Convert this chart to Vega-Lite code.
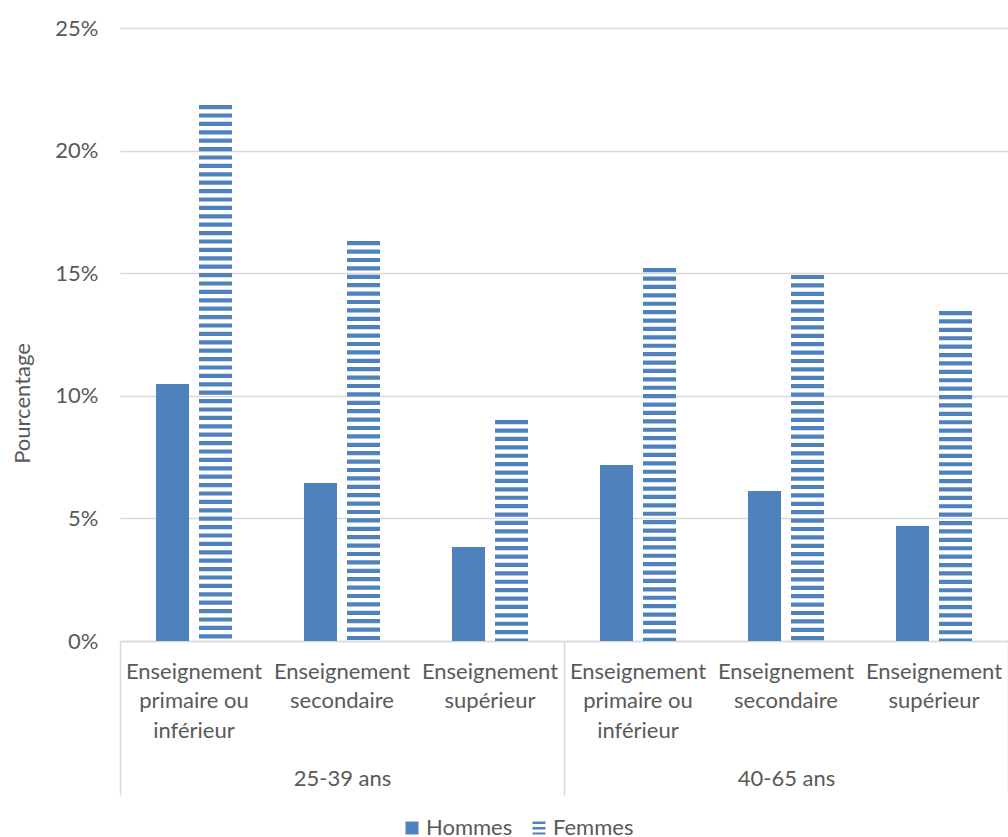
{
  "$schema": "https://vega.github.io/schema/vega-lite/v6.json",
  "width": 888,
  "height": 613,
  "autosize": "none",
  "padding": {"left": 120, "top": 28, "right": 0, "bottom": 196},
  "background": "white",
  "config": {
    "font": "Lato",
    "view": {"stroke": null},
    "axis": {"labelColor": "#595959", "titleColor": "#595959", "labelFontSize": 22, "titleFontSize": 22, "titleFontWeight": "normal"},
    "legend": {"labelColor": "#595959", "labelFontSize": 22}
  },
  "data": {
    "values": [
      {"age": "25-39 ans", "cat": "25-39 ans – primaire", "sexe": "Hommes", "valeur": 0.1048},
      {"age": "25-39 ans", "cat": "25-39 ans – primaire", "sexe": "Femmes", "valeur": 0.2186},
      {"age": "25-39 ans", "cat": "25-39 ans – secondaire", "sexe": "Hommes", "valeur": 0.0644},
      {"age": "25-39 ans", "cat": "25-39 ans – secondaire", "sexe": "Femmes", "valeur": 0.1631},
      {"age": "25-39 ans", "cat": "25-39 ans – supérieur", "sexe": "Hommes", "valeur": 0.0383},
      {"age": "25-39 ans", "cat": "25-39 ans – supérieur", "sexe": "Femmes", "valeur": 0.0901},
      {"age": "40-65 ans", "cat": "40-65 ans – primaire", "sexe": "Hommes", "valeur": 0.0718},
      {"age": "40-65 ans", "cat": "40-65 ans – primaire", "sexe": "Femmes", "valeur": 0.1521},
      {"age": "40-65 ans", "cat": "40-65 ans – secondaire", "sexe": "Hommes", "valeur": 0.0612},
      {"age": "40-65 ans", "cat": "40-65 ans – secondaire", "sexe": "Femmes", "valeur": 0.1493},
      {"age": "40-65 ans", "cat": "40-65 ans – supérieur", "sexe": "Hommes", "valeur": 0.0469},
      {"age": "40-65 ans", "cat": "40-65 ans – supérieur", "sexe": "Femmes", "valeur": 0.1346}
    ]
  },
  "layer": [
    {
      "encoding": {
        "x": {
          "field": "cat", "type": "nominal",
          "scale": {"domain": ["25-39 ans – primaire", "25-39 ans – secondaire", "25-39 ans – supérieur", "40-65 ans – primaire", "40-65 ans – secondaire", "40-65 ans – supérieur"], "paddingInner": 0, "paddingOuter": 0},
          "axis": {
            "title": null, "labelAngle": 0, "ticks": false, "grid": false,
            "domain": true, "domainColor": "#d9d9d9", "domainWidth": 1.5,
            "labelOverlap": false, "labelBound": false, "labelLimit": 0,
            "labelPadding": 20, "labelLineHeight": 29.5,
            "labelExpr": "indexof(datum.value,'primaire')>=0 ? ['Enseignement','primaire ou','inférieur'] : indexof(datum.value,'secondaire')>=0 ? ['Enseignement','secondaire'] : ['Enseignement','supérieur']"
          }
        },
        "xOffset": {"field": "sexe", "type": "nominal", "scale": {"domain": ["Hommes", "Femmes"], "paddingInner": 0.2326, "paddingOuter": 0.837}},
        "y": {
          "field": "valeur", "type": "quantitative",
          "scale": {"domain": [0, 0.25], "nice": false},
          "axis": {
            "title": "Pourcentage", "format": ".0%", "values": [0, 0.05, 0.1, 0.15, 0.2, 0.25],
            "domain": false, "ticks": false, "grid": true, "gridColor": "#d9d9d9", "gridWidth": 1.5,
            "labelPadding": 22, "titleAngle": -90, "titleX": -98, "titleY": 375, "titleAlign": "center", "titleBaseline": "middle"
          }
        }
      },
      "layer": [
        {
          "transform": [{"filter": "datum.sexe === 'Hommes'"}],
          "mark": {"type": "bar", "color": "#4F81BD"}
        },
        {
          "transform": [{"filter": "datum.sexe === 'Femmes'"}],
          "mark": {"type": "rule", "color": "#4F81BD", "strokeWidth": 33, "strokeDash": [4.2, 4.2], "strokeCap": "butt"},
          "encoding": {"y2": {"datum": 0}}
        }
      ]
    },
    {
      "mark": {"type": "point", "filled": true, "opacity": 0},
      "encoding": {
        "x": {
          "field": "age", "type": "nominal",
          "scale": {"domain": ["25-39 ans", "40-65 ans"], "paddingInner": 0, "paddingOuter": 0},
          "axis": {
            "orient": "bottom", "offset": 154, "title": null, "labelAngle": 0,
            "domain": false, "grid": false, "ticks": true, "tickBand": "extent",
            "tickSize": -154, "tickColor": "#d9d9d9", "tickWidth": 1.5,
            "labelPadding": 144, "labelBaseline": "alphabetic"
          }
        },
        "y": {"field": "valeur", "type": "quantitative", "scale": {"domain": [0, 0.25], "nice": false}},
        "color": {
          "field": "sexe", "type": "nominal",
          "scale": {"domain": ["Hommes", "Femmes"], "range": ["#4F81BD", "#4F81BD"]},
          "legend": {"title": null, "orient": "none", "legendX": 281, "legendY": 789, "direction": "horizontal", "symbolSize": 169, "symbolOpacity": 1, "symbolStrokeWidth": 0, "labelOffset": 3, "columnPadding": 15}
        },
        "shape": {
          "field": "sexe", "type": "nominal",
          "scale": {"domain": ["Hommes", "Femmes"], "range": ["square", "M-1,-1H1V-0.62H-1Z M-1,-0.15H1V0.23H-1Z M-1,0.7H1V1H-1Z"]},
          "legend": {"title": null, "orient": "none", "legendX": 281, "legendY": 789, "direction": "horizontal", "symbolSize": 169, "symbolOpacity": 1, "symbolStrokeWidth": 0, "labelOffset": 3, "columnPadding": 15}
        }
      }
    }
  ],
  "resolve": {"scale": {"x": "independent"}, "axis": {"x": "independent"}}
}
